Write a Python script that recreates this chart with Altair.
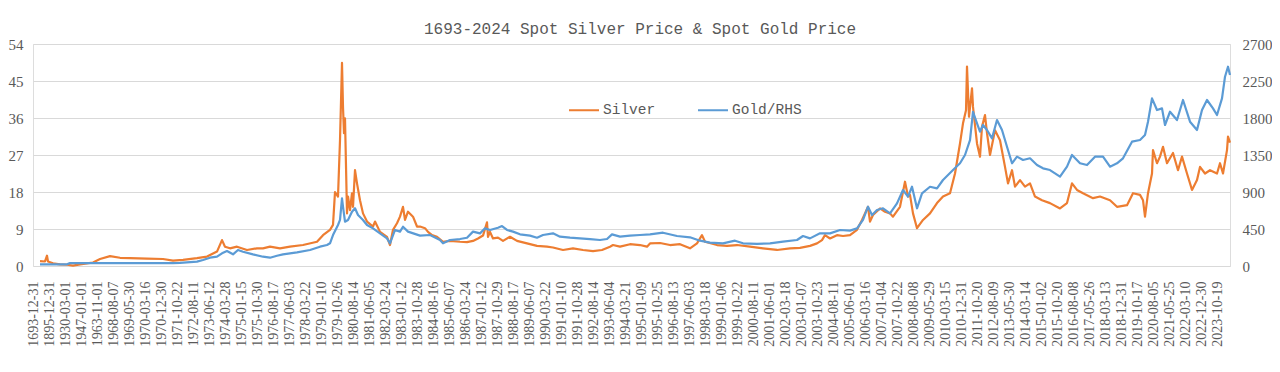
import json
import altair as alt
import pandas as pd

# Category-axis labels (one label every LABEL_STEP observations)
labels = [
    "1693-12-31", "1895-12-31", "1930-03-01", "1947-01-01", "1963-11-01",
    "1968-08-07", "1969-05-30", "1970-03-16", "1970-12-30", "1971-10-22",
    "1972-08-11", "1973-06-12", "1974-03-28", "1975-01-15", "1975-10-30",
    "1976-08-17", "1977-06-03", "1978-03-22", "1979-01-10", "1979-10-26",
    "1980-08-14", "1981-06-05", "1982-03-24", "1983-01-12", "1983-10-28",
    "1984-08-16", "1985-06-07", "1986-03-24", "1987-01-12", "1987-10-29",
    "1988-08-17", "1989-06-07", "1990-03-22", "1991-01-10", "1991-10-28",
    "1992-08-14", "1993-06-04", "1994-03-21", "1995-01-09", "1995-10-25",
    "1996-08-13", "1997-06-03", "1998-03-18", "1999-01-06", "1999-10-22",
    "2000-08-11", "2001-06-01", "2002-03-18", "2003-01-07", "2003-10-23",
    "2004-08-11", "2005-06-01", "2006-03-16", "2007-01-04", "2007-10-22",
    "2008-08-08", "2009-05-29", "2010-03-15", "2010-12-31", "2011-10-20",
    "2012-08-09", "2013-05-30", "2014-03-14", "2015-01-02", "2015-10-20",
    "2016-08-08", "2017-05-26", "2018-03-13", "2018-12-31", "2019-10-17",
    "2020-08-05", "2021-05-25", "2022-03-10", "2022-12-30", "2023-10-19",
]
LABEL_STEP = 16
N_OBS = 1197

# Silver (left axis): observation index on the category axis, price
silver_obs = [
    7, 12, 14, 15, 20, 27, 34, 40, 47, 54, 60, 67, 77, 87, 97, 114, 130, 140,
    150, 164, 174, 184, 189, 192, 197, 204, 214, 224, 230, 237, 247, 257, 270,
    284, 290, 297, 300, 302, 305, 307, 309, 310, 311, 312, 314, 315, 317, 319,
    320, 322, 324, 327, 330, 334, 340, 342, 347, 354, 357, 360, 364, 367, 370,
    372, 375, 380, 384, 387, 392, 395, 399, 404, 410, 417, 427, 434, 440, 445,
    450, 454, 455, 457, 460, 465, 470, 477, 484, 494, 504, 514, 520, 530, 540,
    550, 560, 569, 577, 580, 587, 597, 607, 614, 617, 627, 637, 647, 657, 664,
    669, 672, 684, 694, 704, 717, 730, 744, 757, 767, 777, 784, 789, 792, 797,
    804, 810, 817, 824, 829, 832, 835, 837, 840, 847, 852, 857, 860, 867, 872,
    875, 877, 880, 884, 890, 897, 904, 910, 917, 922, 927, 930, 933, 934, 936,
    939, 940, 944, 947, 949, 952, 954, 957, 962, 967, 972, 975, 979, 982, 987,
    992, 997, 1002, 1009, 1017, 1027, 1034, 1039, 1044, 1050, 1060, 1067, 1077,
    1084, 1094, 1100, 1107, 1110, 1112, 1115, 1119, 1120, 1124, 1127, 1130,
    1134, 1140, 1145, 1149, 1154, 1159, 1164, 1167, 1172, 1177, 1184, 1187,
    1190, 1194, 1195, 1197,
]
silver_price = [
    1.2, 1.1, 2.5, 1.1, 0.65, 0.4, 0.3, 0.1, 0.4, 0.65, 0.85, 1.7, 2.4, 2.0,
    1.9, 1.8, 1.7, 1.3, 1.5, 1.9, 2.3, 3.5, 6.3, 4.7, 4.3, 4.7, 3.9, 4.3, 4.3,
    4.7, 4.3, 4.7, 5.1, 5.9, 7.5, 8.8, 10, 18, 16.9, 30.6, 49.4, 38.7, 32.3,
    35.9, 12.8, 16.9, 13.6, 17.7, 14.4, 23.3, 20.1, 16, 12.8, 10.8, 9.6, 10.8,
    8.3, 7.1, 5.1, 8.8, 10.4, 12, 14.4, 11.2, 13.2, 12, 9.6, 9.6, 9.2, 8.3,
    7.5, 7.1, 5.9, 6.1, 5.9, 5.8, 6.1, 6.7, 7.4, 10.6, 7.1, 8.3, 6.7, 6.9, 6.1,
    7.1, 6.1, 5.5, 4.9, 4.7, 4.5, 3.9, 4.3, 3.9, 3.6, 3.9, 4.7, 5.1, 4.7, 5.3,
    5.1, 4.7, 5.5, 5.6, 5.1, 5.3, 4.3, 5.5, 7.5, 5.9, 5.1, 4.9, 5.1, 4.7, 4.3,
    3.9, 4.3, 4.4, 4.9, 5.5, 6.3, 7.5, 6.7, 7.5, 7.3, 7.5, 8.8, 11.2, 12.8,
    14.4, 10.8, 12.4, 14, 13.2, 12.8, 12, 14.4, 20.5, 16.9, 17.3, 12.8, 9.2,
    11.2, 12.8, 15.3, 16.9, 17.7, 22.5, 29.8, 34.7, 37.9, 48.5, 36.3, 43.2,
    38.7, 29.8, 26.6, 33.9, 36.7, 32.3, 27, 33, 30.6, 24.1, 20.1, 23.3, 19.3,
    20.9, 19.3, 20.1, 16.9, 16, 15.3, 14, 15.3, 20.1, 18.5, 17.7, 16.5, 16.9,
    16, 14.4, 14.8, 17.7, 17.3, 16, 12, 17.7, 22.5, 28.2, 25, 26.6, 29, 25,
    27.5, 23.3, 26.6, 22.5, 18.5, 20.9, 24.1, 22.5, 23.3, 22.5, 25, 22.5, 28.2,
    31.5, 30,
]

# Gold (right axis)
gold_obs = [
    7, 34, 37, 140, 147, 164, 170, 177, 184, 189, 194, 200, 205, 210, 220, 230,
    237, 244, 250, 264, 277, 287, 294, 297, 300, 305, 307, 309, 310, 312, 315,
    319, 322, 325, 330, 334, 340, 347, 354, 357, 362, 367, 370, 375, 387, 397,
    407, 410, 417, 427, 434, 440, 447, 452, 457, 465, 469, 474, 480, 487, 497,
    504, 510, 520, 527, 537, 547, 557, 567, 574, 579, 587, 597, 607, 617, 630,
    644, 657, 667, 677, 690, 702, 710, 724, 737, 750, 764, 770, 777, 787, 797,
    807, 817, 824, 830, 835, 839, 844, 850, 857, 864, 870, 875, 879, 884, 889,
    897, 904, 910, 920, 927, 932, 937, 940, 944, 947, 950, 954, 959, 964, 969,
    974, 979, 984, 990, 997, 1004, 1010, 1017, 1027, 1034, 1039, 1047, 1054,
    1062, 1070, 1077, 1084, 1090, 1099, 1107, 1112, 1115, 1119, 1124, 1129,
    1132, 1137, 1144, 1150, 1157, 1164, 1169, 1174, 1180, 1184, 1189, 1192,
    1195, 1197,
]
gold_price = [
    20, 20, 35, 35, 38, 53, 73, 101, 113, 154, 182, 142, 195, 174, 142, 113,
    101, 125, 142, 166, 195, 235, 255, 276, 377, 499, 560, 823, 721, 539, 560,
    660, 702, 620, 560, 499, 458, 397, 336, 276, 438, 418, 478, 418, 369, 377,
    316, 276, 316, 328, 344, 418, 397, 458, 438, 466, 486, 438, 418, 385, 369,
    344, 377, 397, 357, 344, 336, 328, 316, 328, 385, 357, 369, 377, 385, 405,
    365, 349, 308, 284, 276, 308, 276, 268, 276, 296, 316, 365, 336, 397, 397,
    438, 430, 458, 560, 721, 620, 681, 702, 640, 762, 924, 843, 964, 702, 884,
    964, 944, 1046, 1167, 1249, 1350, 1532, 1876, 1735, 1633, 1715, 1654, 1553,
    1775, 1654, 1451, 1249, 1330, 1289, 1310, 1228, 1188, 1167, 1086, 1208,
    1350, 1249, 1228, 1330, 1330, 1208, 1249, 1310, 1512, 1532, 1593, 1755,
    2039, 1897, 1917, 1715, 1876, 1775, 2019, 1755, 1654, 1897, 2019, 1917,
    1836, 2039, 2302, 2424, 2323,
]

series_names = ["Silver", "Gold/RHS"]
left_ticks = [0, 9, 18, 27, 36, 45, 54]
right_ticks = [0, 450, 900, 1350, 1800, 2250, 2700]

silver_df = pd.DataFrame({"obs": silver_obs, "price": silver_price, "series": series_names[0]})
gold_df = pd.DataFrame({"obs": gold_obs, "price": gold_price, "series": series_names[1]})

TEXT = "#595959"
GRID = "#D9D9D9"
AXIS_FONT = "Liberation Serif"
MONO = "Liberation Mono"

label_expr = json.dumps(labels) + "[round(datum.value / %d)]" % LABEL_STEP

x_enc = alt.X(
    "obs:Q",
    scale=alt.Scale(domain=[0, N_OBS], nice=False, zero=False),
    axis=alt.Axis(
        values=[i * LABEL_STEP for i in range(len(labels))],
        labelExpr=label_expr,
        labelAngle=270,
        labelFont=AXIS_FONT,
        labelFontSize=14,
        labelColor=TEXT,
        labelPadding=15,
        labelOverlap=False,
        labelBound=False,
        labelFlush=False,
        ticks=False,
        grid=False,
        domain=False,
        title=None,
    ),
)

color_enc = alt.Color(
    "series:N",
    scale=alt.Scale(domain=series_names, range=["#ED7D31", "#5B9BD5"]),
    legend=alt.Legend(
        title=None,
        orient="none",
        direction="horizontal",
        legendX=535,
        legendY=50,
        symbolType="stroke",
        symbolSize=900,
        symbolStrokeWidth=2,
        labelFont=MONO,
        labelFontSize=14.5,
        labelColor=TEXT,
        labelOffset=3,
        columnPadding=38,
    ),
)

silver = alt.Chart(silver_df).mark_line(strokeWidth=2.2, strokeJoin="round").encode(
    x=x_enc,
    y=alt.Y(
        "price:Q",
        scale=alt.Scale(domain=[0, 54], nice=False),
        axis=alt.Axis(
            orient="left",
            values=left_ticks,
            labelFont=AXIS_FONT,
            labelFontSize=15,
            labelColor=TEXT,
            labelPadding=10,
            ticks=False,
            domain=False,
            grid=True,
            gridColor=GRID,
            gridWidth=1,
            title=None,
        ),
    ),
    color=color_enc,
    order="obs:Q",
)

gold = alt.Chart(gold_df).mark_line(strokeWidth=2.2, strokeJoin="round").encode(
    x=x_enc,
    y=alt.Y(
        "price:Q",
        scale=alt.Scale(domain=[0, 2700], nice=False),
        axis=alt.Axis(
            orient="right",
            values=right_ticks,
            format="d",
            labelFont=AXIS_FONT,
            labelFontSize=15,
            labelColor=TEXT,
            labelPadding=12,
            ticks=False,
            domain=False,
            grid=False,
            title=None,
        ),
    ),
    color=color_enc,
    order="obs:Q",
)

chart = (
    alt.layer(silver, gold)
    .resolve_scale(y="independent")
    .properties(
        width=1197,
        height=222,
        title=alt.TitleParams(
            "1693-2024 Spot Silver Price & Spot Gold Price",
            anchor="middle",
            frame="bounds",
            font=MONO,
            fontSize=16,
            fontWeight="normal",
            color=TEXT,
            offset=0,
        ),
        autosize=alt.AutoSizeParams(type="none"),
        padding={"left": 25, "top": 36, "right": 42, "bottom": 90},
    )
    .configure_view(stroke=None)
    .configure(background="white")
)

chart.save("out.html", embed_options={"renderer": "svg", "actions": False})
